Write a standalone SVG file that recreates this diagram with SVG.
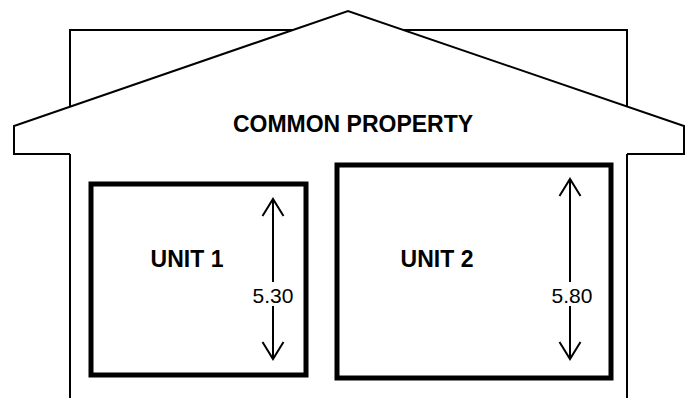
<svg xmlns="http://www.w3.org/2000/svg" width="689" height="398" viewBox="0 0 689 398">
<style>
.thin{fill:none;stroke:#000;stroke-width:2;stroke-linejoin:miter}
.unit{fill:none;stroke:#000;stroke-width:5}
.bold{font-family:"Liberation Sans",Arial,sans-serif;font-weight:bold;font-size:23px;fill:#000;text-anchor:middle}
.dim{font-family:"Liberation Sans",Arial,sans-serif;font-size:21px;fill:#000;text-anchor:middle}
</style>
<rect x="0" y="0" width="689" height="398" fill="#fff"/>
<g id="house">
<path class="thin" d="M70,398 V30 H627 V398"/>
<polygon points="14,126 348,11 684,126 684,154 14,154" fill="#fff" stroke="none"/>
<path class="thin" d="M70,154 H14 V126 L348,11 L684,126 V154 H627"/>
<text class="bold" x="353" y="132">COMMON PROPERTY</text>
</g>
<g id="unit1">
<rect class="unit" x="91" y="184" width="215" height="191"/>
<text class="bold" x="187" y="267">UNIT 1</text>
</g>
<g id="unit2">
<rect class="unit" x="337" y="165" width="274" height="213"/>
<text class="bold" x="437" y="267">UNIT 2</text>
</g>
<g id="connectors">
<path class="thin" d="M273,200 V282 M273,306 V358 M262.5,216 L273,199 L283.5,216 M262.5,342 L273,359 L283.5,342"/>
<text class="dim" x="273" y="303">5.30</text>
<path class="thin" d="M570,180 V282 M570,306 V358 M559.5,196 L570,179 L580.5,196 M559.5,342 L570,359 L580.5,342"/>
<text class="dim" x="572" y="303">5.80</text>
</g>
</svg>
